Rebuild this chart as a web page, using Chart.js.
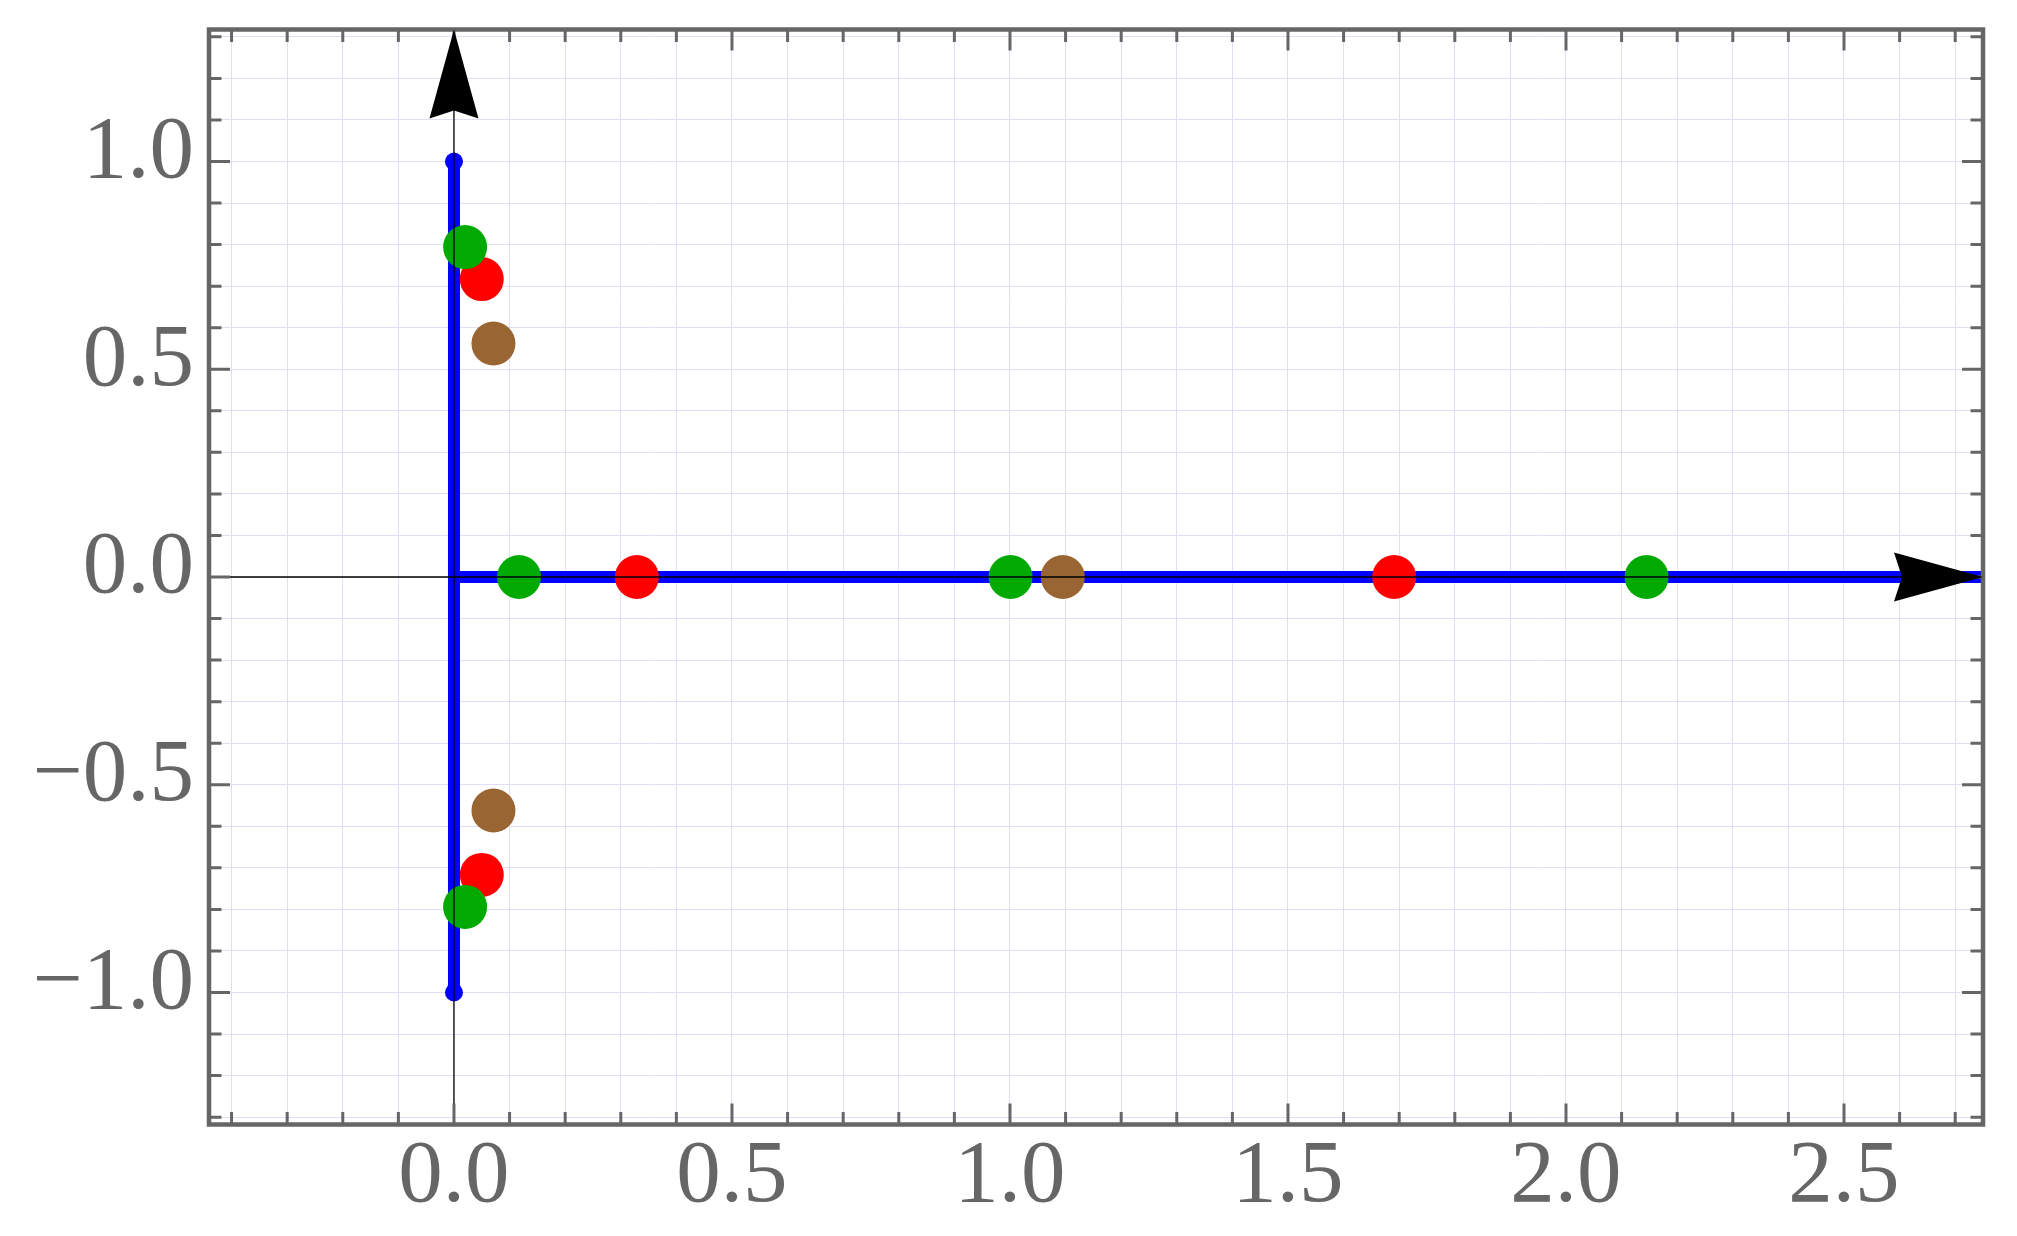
<!DOCTYPE html>
<html>
<head>
<meta charset="utf-8">
<script src="https://cdn.jsdelivr.net/npm/chart.js@4.4.1/dist/chart.umd.min.js"></script>
<style>
html,body{margin:0;padding:0;background:#ffffff;overflow:hidden}
#wrap{width:2017px;height:1236px;position:relative}
canvas{display:block}
</style>
</head>
<body>
<div id="wrap"><canvas id="c" width="2017" height="1236"></canvas></div>
<script>
// ---- axis ranges and tick labels ----
const xRange = [-0.4406, 2.75];
const yRange = [-1.3177, 1.3177];
const xTickValues = [0, 0.5, 1, 1.5, 2, 2.5];
const xTickLabels = ['0.0', '0.5', '1.0', '1.5', '2.0', '2.5'];
const yTickValues = [-1, -0.5, 0, 0.5, 1];
const yTickLabels = ['\u22121.0', '\u22120.5', '0.0', '0.5', '1.0'];

// ---- series ----
const greenX = [0.020, 0.020, 0.117, 1.001, 2.145];
const greenY = [0.794, -0.794, 0, 0, 0];
const redX = [0.050, 0.050, 0.329, 1.691];
const redY = [0.717, -0.717, 0, 0];
const brownX = [0.071, 0.071, 1.095];
const brownY = [0.562, -0.562, 0];

// blue segments
const blueVX = [0, 0];
const blueVY = [-1, 1];
const blueHX = [0, 2.75];
const blueHY = [0, 0];

// black coordinate axes
const axisVX = [0, 0];
const axisVY = [yRange[0], yRange[1]];
const axisHX = [xRange[0], xRange[1]];
const axisHY = [0, 0];

function zip(xs, ys) { return xs.map((v, i) => ({x: v, y: ys[i]})); }
function near(a, b) { return Math.abs(a - b) < 1e-6; }
function labelFor(v, vals, labs) {
  for (let i = 0; i < vals.length; i++) if (near(v, vals[i])) return labs[i];
  return '';
}
function isMajor(v) { return near(v / 0.5, Math.round(v / 0.5)); }

const GRID = 'rgb(222,222,247)';
const FRAME = '#666666';

const framePlugin = {
  id: 'framePlugin',
  afterDatasetsDraw(chart) {
    const ctx = chart.ctx;
    const a = chart.chartArea;
    const xs = chart.scales.x, ys = chart.scales.y;
    ctx.save();
    ctx.strokeStyle = FRAME;
    ctx.lineWidth = 3;
    ctx.lineCap = 'butt';
    ctx.beginPath();
    xs.ticks.forEach(t => {
      const px = xs.getPixelForValue(t.value);
      const L = isMajor(t.value) ? 21 : 12.5;
      ctx.moveTo(px, a.bottom); ctx.lineTo(px, a.bottom - L);
      ctx.moveTo(px, a.top); ctx.lineTo(px, a.top + L);
    });
    ys.ticks.forEach(t => {
      const py = ys.getPixelForValue(t.value);
      const L = isMajor(t.value) ? 21 : 12.5;
      ctx.moveTo(a.left, py); ctx.lineTo(a.left + L, py);
      ctx.moveTo(a.right, py); ctx.lineTo(a.right - L, py);
    });
    ctx.stroke();
    ctx.lineWidth = 4.5;
    ctx.strokeRect(a.left, a.top, a.right - a.left, a.bottom - a.top);

    // arrow heads
    function arrow(tx, ty, dx, dy) {
      const len = 89, half = 24.5, notch = 81;
      const px = -dy, py = dx;
      ctx.beginPath();
      ctx.moveTo(tx, ty);
      ctx.lineTo(tx - dx * len + px * half, ty - dy * len + py * half);
      ctx.lineTo(tx - dx * notch, ty - dy * notch);
      ctx.lineTo(tx - dx * len - px * half, ty - dy * len - py * half);
      ctx.closePath();
      ctx.fillStyle = '#000000';
      ctx.fill();
    }
    arrow(xs.getPixelForValue(0), ys.getPixelForValue(yRange[1]), 0, -1);
    arrow(xs.getPixelForValue(xRange[1]), ys.getPixelForValue(0), 1, 0);
    ctx.restore();
  }
};

Chart.defaults.font.family = "'Liberation Serif', 'Times New Roman', serif";

new Chart(document.getElementById('c'), {
  type: 'scatter',
  data: {
    datasets: [
      {label: 'axisH', data: zip(axisHX, axisHY), showLine: true, borderColor: '#000000', borderWidth: 1.3, pointRadius: 0, order: 0},
      {label: 'axisV', data: zip(axisVX, axisVY), showLine: true, borderColor: '#000000', borderWidth: 1.3, pointRadius: 0, order: 0},
      {label: 'green', data: zip(greenX, greenY), backgroundColor: 'rgb(0,170,0)', borderWidth: 0, pointRadius: 22, pointBorderWidth: 0, order: 1},
      {label: 'red', data: zip(redX, redY), backgroundColor: 'rgb(255,0,0)', borderWidth: 0, pointRadius: 22, pointBorderWidth: 0, order: 1},
      {label: 'brown', data: zip(brownX, brownY), backgroundColor: 'rgb(153,102,51)', borderWidth: 0, pointRadius: 22, pointBorderWidth: 0, order: 1},
      {label: 'blueH', data: zip(blueHX, blueHY), showLine: true, borderColor: '#0000ff', borderWidth: 12, pointRadius: 0, order: 2},
      {label: 'blueV', data: zip(blueVX, blueVY), showLine: true, borderColor: '#0000ff', borderWidth: 12, pointRadius: 9, pointBorderWidth: 0, pointBackgroundColor: '#0000ff', order: 2}
    ]
  },
  options: {
    responsive: false,
    animation: false,
    devicePixelRatio: 1,
    events: [],
    layout: {padding: {top: 29.5, right: 34, left: 0, bottom: 0}},
    plugins: {legend: {display: false}, tooltip: {enabled: false}},
    scales: {
      x: {
        type: 'linear', position: 'bottom',
        min: xRange[0], max: xRange[1],
        grid: {color: GRID, lineWidth: 1, drawTicks: false},
        border: {display: false},
        ticks: {
          stepSize: 0.1, includeBounds: false, autoSkip: false,
          maxRotation: 0, minRotation: 0, padding: 0,
          color: FRAME, font: {size: 89},
          callback: v => labelFor(v, xTickValues, xTickLabels)
        },
        afterFit(s) { s.height = 111.5; s.paddingLeft = 0; s.paddingRight = 0; }
      },
      y: {
        type: 'linear', position: 'left',
        min: yRange[0], max: yRange[1],
        grid: {color: GRID, lineWidth: 1, drawTicks: false},
        border: {display: false},
        ticks: {
          stepSize: 0.1, includeBounds: false, autoSkip: false,
          padding: 15, labelOffset: -8,
          color: FRAME, font: {size: 89},
          callback: v => labelFor(v, yTickValues, yTickLabels)
        },
        afterFit(s) { s.width = 209; s.paddingTop = 0; s.paddingBottom = 0; }
      }
    }
  },
  plugins: [framePlugin]
});
</script>
</body>
</html>
